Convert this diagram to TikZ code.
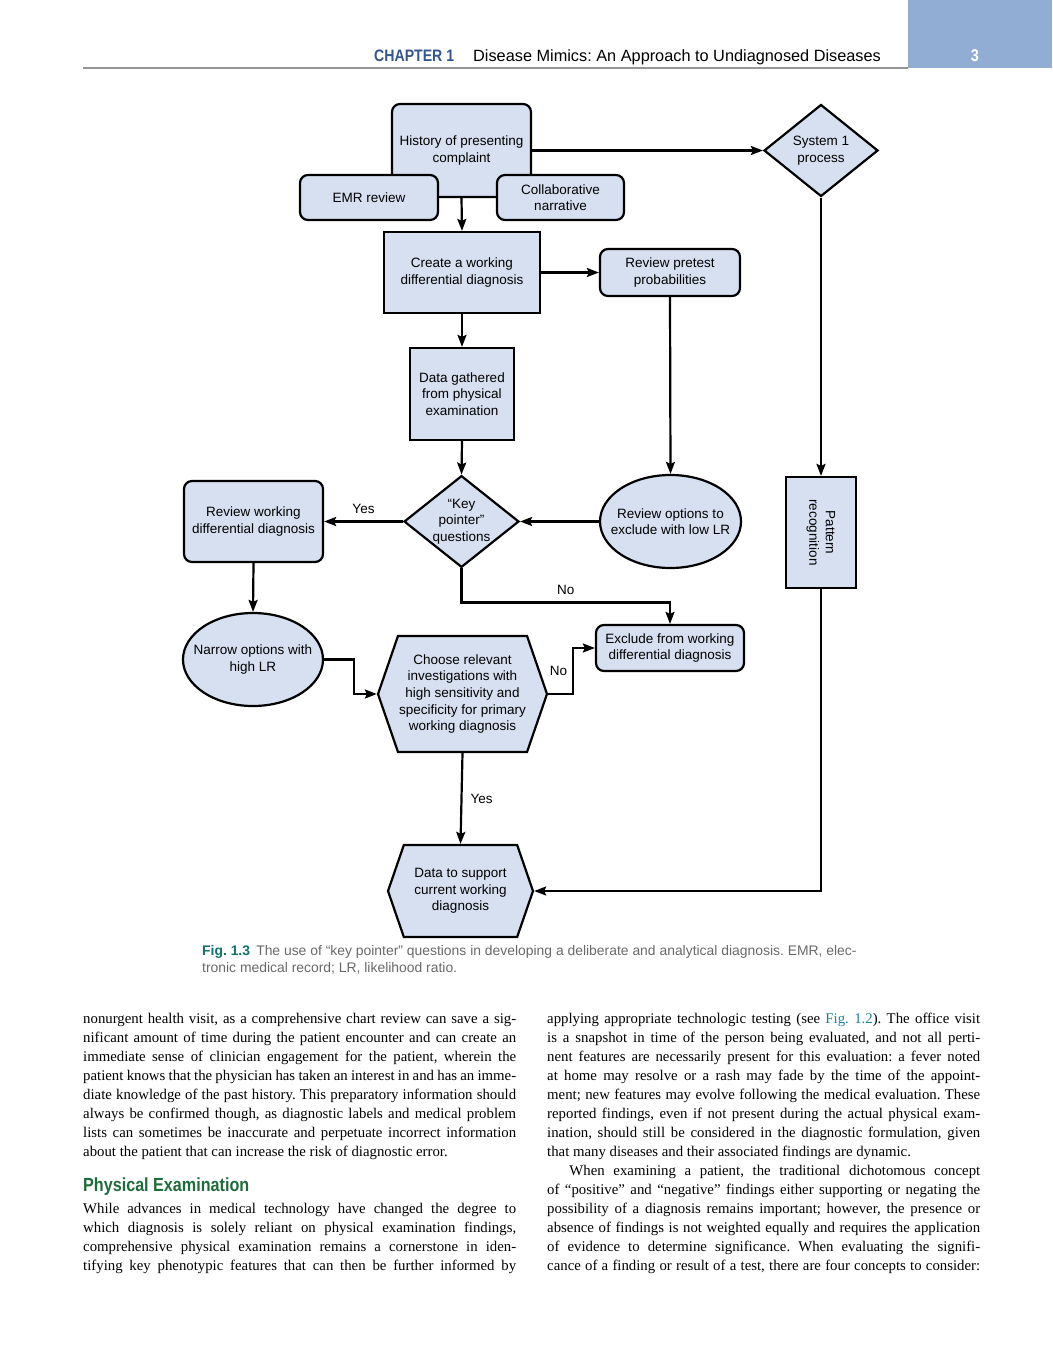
\documentclass[tikz,border=0pt]{standalone}
\usepackage{fontspec}
\defaultfontfeatures{Ligatures=TeX}
\setmainfont{Liberation Serif}
\newfontfamily\diagfont{Liberation Sans}
\newfontfamily\condfont[FakeStretch=0.85]{Liberation Sans}
\usetikzlibrary{shapes,shapes.geometric,shapes.symbols,arrows.meta,positioning,calc}
\definecolor{boxfill}{RGB}{215,224,241}
\definecolor{headbar}{RGB}{146,173,211}
\definecolor{chapblue}{RGB}{52,86,140}
\definecolor{figteal}{RGB}{20,112,108}
\definecolor{linkteal}{RGB}{28,128,158}
\definecolor{headgreen}{RGB}{30,108,58}
\definecolor{capgray}{RGB}{105,105,105}
\definecolor{rulegray}{RGB}{150,150,150}
\newlength{\colw}
\setlength{\colw}{433pt}
\newcommand{\jline}[1]{\makebox[\colw][s]{#1}}
\frenchspacing
\tikzset{
  fbox/.style={draw, line width=2.2pt, fill=boxfill, align=center, inner sep=2pt,
    font=\diagfont\fontsize{13.5}{16.5}\selectfont},
  rbox/.style={fbox, rounded corners=8pt},
  sbox/.style={fbox, rectangle},
  dbox/.style={fbox, diamond, aspect=1.24, inner sep=0pt},
  ebox/.style={fbox, ellipse, inner xsep=-10pt, inner ysep=0pt},
  hbox/.style={fbox, signal, signal to=east and west, signal pointer angle=142, inner sep=0pt},
  arr/.style={line width=2.2pt, -{Stealth[length=12pt,width=9pt,inset=2pt]}},
  lbl/.style={font=\diagfont\fontsize{13.5}{16}\selectfont, inner sep=0pt},
  body/.style={anchor=base west, inner sep=0pt, font=\fontsize{14.8}{19}\selectfont}
}
\begin{document}
\begin{tikzpicture}[x=1pt,y=-1pt]
\useasboundingbox (0,0) rectangle (1052,1346);
% page header
\fill[headbar] (908,0) rectangle (1052,68);
\draw[rulegray, line width=2pt] (83,68) -- (908,68);
\node[anchor=base west, inner sep=0pt, font=\condfont\bfseries\fontsize{16.6}{18}\selectfont, text=chapblue] (chap) at (374,62) {CHAPTER 1};
\node[anchor=base west, inner sep=0pt, font=\diagfont\fontsize{16.3}{18}\selectfont] (title) at (473,62) {Disease Mimics: An Approach to Undiagnosed Diseases};
\node[anchor=base, inner sep=0pt, font=\condfont\bfseries\fontsize{17}{19}\selectfont, text=white] (pgnum) at (975,62) {3};

% flowchart
\node[rbox, minimum width=139pt, minimum height=93pt] (hist) at (461.5,150.5) {History of presenting\\complaint};
\node[rbox, minimum width=138pt, minimum height=45pt] (emr) at (369,197.5) {EMR review};
\node[rbox, minimum width=127pt, minimum height=45pt] (collab) at (560.5,197.5) {Collaborative\\narrative};
\node[dbox, minimum width=114pt, minimum height=92pt] (sys1) at (821,150.5) {System 1\\process};
\node[sbox, minimum width=156pt, minimum height=81pt] (create) at (462,272.5) {Create a working\\differential diagnosis};
\node[rbox, minimum width=140pt, minimum height=47pt] (pretest) at (670,272.5) {Review pretest\\probabilities};
\node[sbox, minimum width=104pt, minimum height=92pt] (phys) at (462,394) {Data gathered\\from physical\\examination};
\node[dbox, minimum width=115pt, minimum height=91pt] (key) at (461.5,521.5) {“Key\\pointer”\\questions};
\node[rbox, minimum width=139pt, minimum height=81pt] (revwork) at (253.5,521.5) {Review working\\differential diagnosis};
\node[ebox, minimum width=141pt, minimum height=93pt] (lowlr) at (670.5,521.5) {Review options to\\exclude with low LR};
\node[sbox, minimum width=70pt, minimum height=111pt] (pattern) at (821,532.5) {\rotatebox{-90}{\begin{tabular}{@{}c@{}}Pattern\\recognition\end{tabular}}};
\node[ebox, minimum width=140pt, minimum height=93pt] (highlr) at (253,659.5) {Narrow options with\\high LR};
\node[hbox, minimum width=169pt, minimum height=116pt] (choose) at (462.5,694) {Choose relevant\\investigations with\\high sensitivity and\\specificity for primary\\working diagnosis};
\node[rbox, minimum width=148pt, minimum height=46pt] (exclude) at (670,648) {Exclude from working\\differential diagnosis};
\node[hbox, minimum width=145pt, minimum height=92pt] (support) at (460.5,891) {Data to support\\current working\\diagnosis};

% connectors
\draw[arr] (hist.south) -- (create.north);
\draw[arr] (hist.east) -- (sys1.west);
\draw[arr] (create.east) -- (pretest.west);
\draw[arr] (create.south) -- (phys.north);
\draw[arr] (phys.south) -- (key.north);
\draw[arr] (pretest.south) -- (lowlr.north);
\draw[arr] (lowlr.west) -- (key.east);
\draw[arr] (key.west) -- node[lbl, above=7pt] (yes1) {Yes} (revwork.east);
\draw[arr] (sys1.south) -- (pattern.north);
\draw[arr] (revwork.south) -- (highlr.north);
\draw[arr] (highlr.east) -- ++(30,0) |- (choose.west);
\draw[arr] (key.south) -- ++(0,34) -| node[lbl, pos=0.25, above=7pt] (no1) {No} (exclude.north);
\draw[arr] (choose.east) -- ++(25,0) |- node[lbl, pos=0.25, left=5pt] (no2) {No} (exclude.west);
\draw[arr] (choose.south) -- node[lbl, right=8pt] (yes2) {Yes} (support.north);
\draw[arr] (pattern.south) |- (support.east);

% caption
\node[anchor=base west, inner sep=0pt, font=\diagfont\fontsize{13.9}{17}\selectfont, text=capgray] (cap1) at (202,955)
  {\textcolor{figteal}{\bfseries Fig. 1.3}\, The use of “key pointer” questions in developing a deliberate and analytical diagnosis. EMR, elec-};
\node[anchor=base west, inner sep=0pt, font=\diagfont\fontsize{13.9}{17}\selectfont, text=capgray] (cap2) at (202,972)
  {tronic medical record; LR, likelihood ratio.};

% left column
\node[body] (la1) at (83,1023) {\jline{nonurgent health visit, as a comprehensive chart review can save a sig-}};
\node[body] (la2) at (83,1042) {\jline{nificant amount of time during the patient encounter and can create an}};
\node[body] (la3) at (83,1061) {\jline{immediate sense of clinician engagement for the patient, wherein the}};
\node[body] (la4) at (83,1080) {\jline{patient knows that the physician has taken an interest in and has an imme-}};
\node[body] (la5) at (83,1099) {\jline{diate knowledge of the past history. This preparatory information should}};
\node[body] (la6) at (83,1118) {\jline{always be confirmed though, as diagnostic labels and medical problem}};
\node[body] (la7) at (83,1137) {\jline{lists can sometimes be inaccurate and perpetuate incorrect information}};
\node[body] (la8) at (83,1156) {about the patient that can increase the risk of diagnostic error.};
\node[anchor=base west, inner sep=0pt, font=\condfont\bfseries\fontsize{19}{21}\selectfont, text=headgreen] (physhead) at (83,1191) {Physical Examination};
\node[body] (lb1) at (83,1213) {\jline{While advances in medical technology have changed the degree to}};
\node[body] (lb2) at (83,1232) {\jline{which diagnosis is solely reliant on physical examination findings,}};
\node[body] (lb3) at (83,1251) {\jline{comprehensive physical examination remains a cornerstone in iden-}};
\node[body] (lb4) at (83,1270) {\jline{tifying key phenotypic features that can then be further informed by}};

% right column
\node[body] (ra1) at (547,1023) {\jline{applying appropriate technologic testing (see \textcolor{linkteal}{Fig.~1.2}). The office visit}};
\node[body] (ra2) at (547,1042) {\jline{is a snapshot in time of the person being evaluated, and not all perti-}};
\node[body] (ra3) at (547,1061) {\jline{nent features are necessarily present for this evaluation: a fever noted}};
\node[body] (ra4) at (547,1080) {\jline{at home may resolve or a rash may fade by the time of the appoint-}};
\node[body] (ra5) at (547,1099) {\jline{ment; new features may evolve following the medical evaluation. These}};
\node[body] (ra6) at (547,1118) {\jline{reported findings, even if not present during the actual physical exam-}};
\node[body] (ra7) at (547,1137) {\jline{ination, should still be considered in the diagnostic formulation, given}};
\node[body] (ra8) at (547,1156) {that many diseases and their associated findings are dynamic.};
\node[body] (rb1) at (547,1175) {\jline{\hspace*{1.5em}When examining a patient, the traditional dichotomous concept}};
\node[body] (rb2) at (547,1194) {\jline{of “positive” and “negative” findings either supporting or negating the}};
\node[body] (rb3) at (547,1213) {\jline{possibility of a diagnosis remains important; however, the presence or}};
\node[body] (rb4) at (547,1232) {\jline{absence of findings is not weighted equally and requires the application}};
\node[body] (rb5) at (547,1251) {\jline{of evidence to determine significance. When evaluating the signifi-}};
\node[body] (rb6) at (547,1270) {\jline{cance of a finding or result of a test, there are four concepts to consider:}};
\end{tikzpicture}
\end{document}
